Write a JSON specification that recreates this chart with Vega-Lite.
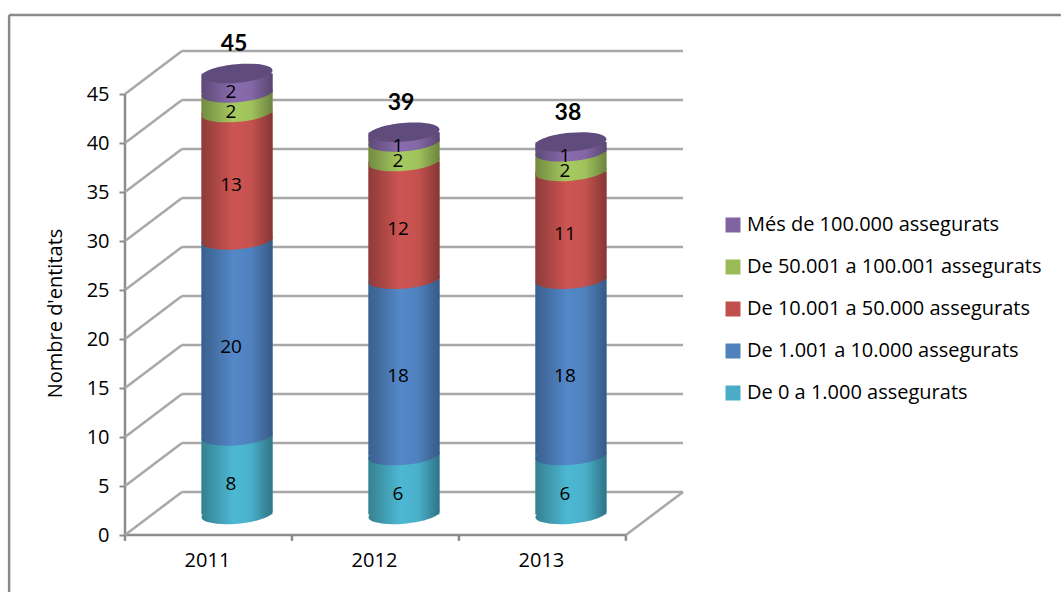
{"$schema":"https://vega.github.io/schema/vega-lite/v6.json","width":558,"height":485,"autosize":{"type":"none"},"padding":{"left":125,"top":50,"right":378,"bottom":57},"background":"white","config":{"view":{"stroke":null},"font":"Open Sans","axis":{"labelFont":"Open Sans","titleFont":"Open Sans"},"legend":{"labelFont":"Open Sans"}},
"datasets":{"frame":[
{"xa":2009.635,"xb":2015.934,"ya":53.06,"yb":53.06,"kind":"outer"},
{"xa":2009.635,"xb":2009.635,"ya":53.06,"yb":-5.82,"kind":"outer"},
{"xa":2010.329,"xb":2010.329,"ya":0,"yb":45,"kind":"axis"},
{"xa":2010.329,"xb":2013.329,"ya":0,"yb":0,"kind":"axis"},
{"xa":2010.329,"xb":2010.329,"ya":0,"yb":-0.6,"kind":"axis"},
{"xa":2011.329,"xb":2011.329,"ya":0,"yb":-0.6,"kind":"axis"},
{"xa":2012.329,"xb":2012.329,"ya":0,"yb":-0.6,"kind":"axis"},
{"xa":2013.329,"xb":2013.329,"ya":0,"yb":-0.6,"kind":"axis"},
{"xa":2013.329,"xb":2013.671,"ya":0,"yb":4.39,"kind":"wall"},
{"xa":2010.329,"xb":2010.67,"ya":0,"yb":4.39,"kind":"wall"},
{"xa":2010.329,"xb":2010.67,"ya":5,"yb":9.39,"kind":"wall"},
{"xa":2010.329,"xb":2010.67,"ya":10,"yb":14.39,"kind":"wall"},
{"xa":2010.329,"xb":2010.67,"ya":15,"yb":19.39,"kind":"wall"},
{"xa":2010.329,"xb":2010.67,"ya":20,"yb":24.39,"kind":"wall"},
{"xa":2010.329,"xb":2010.67,"ya":25,"yb":29.39,"kind":"wall"},
{"xa":2010.329,"xb":2010.67,"ya":30,"yb":34.39,"kind":"wall"},
{"xa":2010.329,"xb":2010.67,"ya":35,"yb":39.39,"kind":"wall"},
{"xa":2010.329,"xb":2010.67,"ya":40,"yb":44.39,"kind":"wall"},
{"xa":2010.329,"xb":2010.67,"ya":45,"yb":49.39,"kind":"wall"},
{"xa":2010.67,"xb":2013.671,"ya":4.39,"yb":4.39,"kind":"wall"},
{"xa":2010.67,"xb":2013.671,"ya":9.39,"yb":9.39,"kind":"wall"},
{"xa":2010.67,"xb":2013.671,"ya":14.39,"yb":14.39,"kind":"wall"},
{"xa":2010.67,"xb":2013.671,"ya":19.39,"yb":19.39,"kind":"wall"},
{"xa":2010.67,"xb":2013.671,"ya":24.39,"yb":24.39,"kind":"wall"},
{"xa":2010.67,"xb":2013.671,"ya":29.39,"yb":29.39,"kind":"wall"},
{"xa":2010.67,"xb":2013.671,"ya":34.39,"yb":34.39,"kind":"wall"},
{"xa":2010.67,"xb":2013.671,"ya":39.39,"yb":39.39,"kind":"wall"},
{"xa":2010.67,"xb":2013.671,"ya":44.39,"yb":44.39,"kind":"wall"},
{"xa":2010.67,"xb":2013.671,"ya":49.39,"yb":49.39,"kind":"wall"}
],
"entities":[
{"year":2011,"order":1,"category":"De 0 a 1.000 assegurats","value":8},
{"year":2011,"order":2,"category":"De 1.001 a  10.000 assegurats","value":20},
{"year":2011,"order":3,"category":"De 10.001 a 50.000 assegurats","value":13},
{"year":2011,"order":4,"category":"De 50.001 a 100.001 assegurats","value":2},
{"year":2011,"order":5,"category":"Més de 100.000 assegurats","value":2},
{"year":2012,"order":1,"category":"De 0 a 1.000 assegurats","value":6},
{"year":2012,"order":2,"category":"De 1.001 a  10.000 assegurats","value":18},
{"year":2012,"order":3,"category":"De 10.001 a 50.000 assegurats","value":12},
{"year":2012,"order":4,"category":"De 50.001 a 100.001 assegurats","value":2},
{"year":2012,"order":5,"category":"Més de 100.000 assegurats","value":1},
{"year":2013,"order":1,"category":"De 0 a 1.000 assegurats","value":6},
{"year":2013,"order":2,"category":"De 1.001 a  10.000 assegurats","value":18},
{"year":2013,"order":3,"category":"De 10.001 a 50.000 assegurats","value":11},
{"year":2013,"order":4,"category":"De 50.001 a 100.001 assegurats","value":2},
{"year":2013,"order":5,"category":"Més de 100.000 assegurats","value":1}
]},
"resolve":{"scale":{"y":"independent"}},
"layer":[
{"data":{"name":"frame"},"mark":{"type":"rule","clip":false},
"encoding":{
"x":{"field":"xa","type":"quantitative","scale":{"domain":[2010.329,2013.671],"nice":false,"zero":false,"padding":0},"axis":{"values":[2010.82,2011.82,2012.82],"labelExpr":"format(ceil(datum.value),'d')","domain":false,"ticks":false,"grid":false,"title":null,"labelFontSize":20,"labelColor":"#000","labelPadding":15,"labelFlush":false}},
"x2":{"field":"xb"},
"y":{"field":"ya","type":"quantitative","scale":{"domain":[0,49.49],"nice":false},"axis":{"values":[0,5,10,15,20,25,30,35,40,45],"domain":false,"grid":false,"tickColor":"#8c8c8c","tickWidth":2,"tickSize":6,"labelFontSize":20,"labelColor":"#000","labelPadding":10,"title":"Nombre d'entitats","titleFontSize":20,"titleFontWeight":"normal","titleColor":"#000","titleX":-60,"titleY":263}},
"y2":{"field":"yb"},
"stroke":{"field":"kind","type":"nominal","scale":{"domain":["outer","axis","wall"],"range":["#8a8a8a","#8c8c8c","#a8a8a8"]},"legend":null},
"strokeWidth":{"field":"kind","type":"nominal","scale":{"domain":["outer","axis","wall"],"range":[2.5,2.5,3.5]},"legend":null}
}},
{"data":{"name":"entities"},
"transform":[{"stack":"value","groupby":["year"],"sort":[{"field":"order","order":"ascending"}],"as":["y0","y1"]},{"joinaggregate":[{"op":"sum","field":"value","as":"total"}],"groupby":["year"]}],
"encoding":{
"x":{"field":"year","type":"quantitative","scale":{"domain":[2010.329,2013.671],"nice":false,"zero":false,"padding":0},"axis":{"values":[2010.82,2011.82,2012.82],"labelExpr":"format(ceil(datum.value),'d')","domain":false,"ticks":false,"grid":false,"title":null,"labelFontSize":20,"labelColor":"#000","labelPadding":15,"labelFlush":false}},
"y":{"field":"y0","type":"quantitative","scale":{"domain":[-2.1,47.39],"nice":false},"axis":null},
"y2":{"field":"y1"}
},
"layer":[
{"mark":{"type":"bar","width":71},"encoding":{"color":{"field":"category","type":"nominal","scale":{"domain":["Més de 100.000 assegurats","De 50.001 a 100.001 assegurats","De 10.001 a 50.000 assegurats","De 1.001 a  10.000 assegurats","De 0 a 1.000 assegurats"],"range":["#8064a2","#9bbb59","#c0504d","#4f81bd","#4bacc6"]},"legend":{"title":null,"orient":"none","legendX":598,"legendY":165,"padding":0,"symbolType":"square","symbolSize":225,"symbolStrokeWidth":0,"labelFontSize":20,"labelColor":"#000","labelOffset":4,"rowPadding":22,"labelLimit":400}}}},
{"transform":[{"filter":"datum.order==1"}],"mark":{"type":"bar","width":71,"cornerRadiusBottomRight":4,"fill":{"gradient":"linear","x1":0,"y1":0,"x2":1,"y2":0,"stops":[{"offset":0,"color":"#35808f"},{"offset":0.45,"color":"#4db8d3"},{"offset":0.7,"color":"#4ab0ca"},{"offset":1,"color":"#2f7385"}]}}},
{"transform":[{"filter":"datum.order==1"}],"mark":{"type":"point","filled":true,"opacity":1,"size":5041,"shape":"M-1,0.087 A1,0.26,-5,1,0,1,-0.087 A1,0.26,-5,1,0,-1,0.087Z","fill":{"gradient":"linear","x1":0,"y1":0,"x2":1,"y2":0,"stops":[{"offset":0,"color":"#35808f"},{"offset":0.45,"color":"#4db8d3"},{"offset":0.7,"color":"#4ab0ca"},{"offset":1,"color":"#2f7385"}]}}},
{"transform":[{"filter":"datum.order==2"}],"mark":{"type":"bar","width":71,"fill":{"gradient":"linear","x1":0,"y1":0,"x2":1,"y2":0,"stops":[{"offset":0,"color":"#3a5f8d"},{"offset":0.45,"color":"#5488c8"},{"offset":0.7,"color":"#4f81bd"},{"offset":1,"color":"#375a85"}]}}},
{"transform":[{"filter":"datum.order==2"}],"mark":{"type":"point","filled":true,"opacity":1,"size":5041,"shape":"M-1,0.087 A1,0.26,-5,1,0,1,-0.087 A1,0.26,-5,1,0,-1,0.087Z","fill":{"gradient":"linear","x1":0,"y1":0,"x2":1,"y2":0,"stops":[{"offset":0,"color":"#3a5f8d"},{"offset":0.45,"color":"#5488c8"},{"offset":0.7,"color":"#4f81bd"},{"offset":1,"color":"#375a85"}]}}},
{"transform":[{"filter":"datum.order==3"}],"mark":{"type":"bar","width":71,"fill":{"gradient":"linear","x1":0,"y1":0,"x2":1,"y2":0,"stops":[{"offset":0,"color":"#8e3b39"},{"offset":0.45,"color":"#cd5552"},{"offset":0.7,"color":"#c4524f"},{"offset":1,"color":"#853735"}]}}},
{"transform":[{"filter":"datum.order==3"}],"mark":{"type":"point","filled":true,"opacity":1,"size":5041,"shape":"M-1,0.087 A1,0.26,-5,1,0,1,-0.087 A1,0.26,-5,1,0,-1,0.087Z","fill":{"gradient":"linear","x1":0,"y1":0,"x2":1,"y2":0,"stops":[{"offset":0,"color":"#8e3b39"},{"offset":0.45,"color":"#cd5552"},{"offset":0.7,"color":"#c4524f"},{"offset":1,"color":"#853735"}]}}},
{"transform":[{"filter":"datum.order==4"}],"mark":{"type":"bar","width":71,"fill":{"gradient":"linear","x1":0,"y1":0,"x2":1,"y2":0,"stops":[{"offset":0,"color":"#728a42"},{"offset":0.45,"color":"#a7ca60"},{"offset":0.7,"color":"#a0c25c"},{"offset":1,"color":"#6c833f"}]}}},
{"transform":[{"filter":"datum.order==4"}],"mark":{"type":"point","filled":true,"opacity":1,"size":5041,"shape":"M-1,0.087 A1,0.26,-5,1,0,1,-0.087 A1,0.26,-5,1,0,-1,0.087Z","fill":{"gradient":"linear","x1":0,"y1":0,"x2":1,"y2":0,"stops":[{"offset":0,"color":"#728a42"},{"offset":0.45,"color":"#a7ca60"},{"offset":0.7,"color":"#a0c25c"},{"offset":1,"color":"#6c833f"}]}}},
{"transform":[{"filter":"datum.order==5"}],"mark":{"type":"bar","width":71,"cornerRadiusTopLeft":4,"fill":{"gradient":"linear","x1":0,"y1":0,"x2":1,"y2":0,"stops":[{"offset":0,"color":"#5e4a78"},{"offset":0.45,"color":"#8a6cae"},{"offset":0.7,"color":"#8467a6"},{"offset":1,"color":"#594671"}]}}},
{"transform":[{"filter":"datum.order==5"}],"mark":{"type":"point","filled":true,"opacity":1,"size":5041,"shape":"M-1,0.087 A1,0.26,-5,1,0,1,-0.087 A1,0.26,-5,1,0,-1,0.087Z","fill":{"gradient":"linear","x1":0,"y1":0,"x2":1,"y2":0,"stops":[{"offset":0,"color":"#5e4a78"},{"offset":0.45,"color":"#8a6cae"},{"offset":0.7,"color":"#8467a6"},{"offset":1,"color":"#594671"}]}}},
{"transform":[{"filter":"datum.order==5"}],"mark":{"type":"point","filled":true,"opacity":1,"size":5041,"color":"#604c7c","fill":"#604c7c","shape":"M-1,0.087 A1,0.26,-5,1,0,1,-0.087 A1,0.26,-5,1,0,-1,0.087Z"},"encoding":{"y":{"field":"y1","type":"quantitative"},"y2":null}},
{"transform":[{"fold":["y0","y1"],"as":["edge","pos"]},{"aggregate":[{"op":"mean","field":"pos","as":"mid"},{"op":"max","field":"value","as":"value"}],"groupby":["year","order"]}],"mark":{"type":"text","fontSize":19,"font":"Open Sans","color":"#000","dx":-6,"dy":9,"baseline":"middle"},"encoding":{"y":{"field":"mid","type":"quantitative"},"y2":null,"text":{"field":"value","type":"quantitative"}}},
{"transform":[{"filter":"datum.order==5"}],"mark":{"type":"text","fontSize":23,"font":"Lato","fontWeight":"bold","color":"#000","dx":-3,"dy":-29,"baseline":"middle"},"encoding":{"y":{"field":"y1","type":"quantitative"},"y2":null,"text":{"field":"total","type":"quantitative"}}}
]}
]}
